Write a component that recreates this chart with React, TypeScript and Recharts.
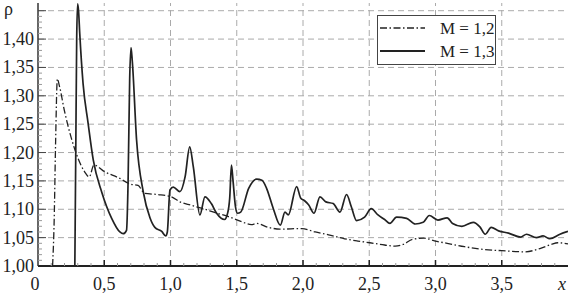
import React from "react";
import { LineChart, Line, XAxis, YAxis, ReferenceLine, Legend } from "recharts";

// M = 1,2 (dash-dot)
const m12X = [0.11, 0.122, 0.133, 0.146, 0.161, 0.201, 0.252, 0.302, 0.352, 0.387, 0.422, 0.503, 0.604, 0.704, 0.755, 0.805, 0.905, 1.006, 1.071, 1.157, 1.247, 1.338, 1.438, 1.537, 1.61, 1.65, 1.74, 1.826, 1.992, 2.092, 2.193, 2.314, 2.414, 2.505, 2.616, 2.696, 2.756, 2.827, 2.917, 2.998, 3.088, 3.219, 3.37, 3.501, 3.672, 3.793, 3.873, 3.923, 4.0];
const m12Y = [1.0, 1.08, 1.22, 1.33, 1.318, 1.272, 1.225, 1.19, 1.166, 1.157, 1.178, 1.166, 1.156, 1.144, 1.142, 1.128, 1.126, 1.122, 1.113, 1.107, 1.101, 1.094, 1.087, 1.078, 1.073, 1.075, 1.068, 1.065, 1.066, 1.06, 1.055, 1.048, 1.044, 1.041, 1.037, 1.035, 1.038, 1.047, 1.049, 1.044, 1.04, 1.034, 1.029, 1.027, 1.025, 1.031, 1.038, 1.041, 1.039];

// M = 1,3 (solid)
const m13X = [0.278, 0.285, 0.292, 0.299, 0.306, 0.315, 0.34, 0.378, 0.417, 0.48, 0.556, 0.618, 0.643, 0.668, 0.68, 0.692, 0.702, 0.712, 0.744, 0.795, 0.845, 0.882, 0.934, 0.964, 0.976, 0.996, 1.021, 1.071, 1.11, 1.145, 1.172, 1.222, 1.26, 1.308, 1.348, 1.408, 1.43, 1.447, 1.46, 1.472, 1.49, 1.505, 1.53, 1.59, 1.65, 1.69, 1.725, 1.776, 1.829, 1.864, 1.889, 1.952, 1.982, 2.012, 2.042, 2.083, 2.128, 2.173, 2.228, 2.279, 2.329, 2.364, 2.404, 2.465, 2.515, 2.566, 2.616, 2.656, 2.706, 2.782, 2.847, 2.907, 2.953, 3.018, 3.088, 3.129, 3.199, 3.285, 3.335, 3.375, 3.42, 3.476, 3.551, 3.642, 3.687, 3.762, 3.812, 3.863, 3.939, 4.0];
const m13Y = [1.0, 1.2, 1.4, 1.462, 1.45, 1.41, 1.322, 1.252, 1.187, 1.131, 1.084, 1.06, 1.057, 1.063, 1.15, 1.33, 1.385, 1.36, 1.222, 1.13, 1.085, 1.068, 1.061, 1.053, 1.06, 1.134, 1.139, 1.131, 1.157, 1.21, 1.175, 1.09, 1.122, 1.11, 1.093, 1.082, 1.092, 1.12, 1.178, 1.15, 1.105, 1.093, 1.095, 1.137, 1.153, 1.151, 1.137, 1.101, 1.072, 1.095, 1.09, 1.14, 1.12, 1.115, 1.108, 1.093, 1.122, 1.113, 1.11, 1.095, 1.126, 1.105, 1.08, 1.086, 1.101, 1.09, 1.082, 1.075, 1.086, 1.084, 1.074, 1.077, 1.089, 1.081, 1.085, 1.075, 1.07, 1.077, 1.069, 1.056, 1.068, 1.062, 1.058, 1.051, 1.056, 1.05, 1.053, 1.048, 1.056, 1.061];

// axis ticks and labels
const xMajorTicks = [0, 0.5, 1.0, 1.5, 2.0, 2.5, 3.0, 3.5, 4.0];
const xMajorLabels = ["0", "0,5", "1,0", "1,5", "2,0", "2,5", "3,0", "3,5", "x"];
const yMajorTicks = [1.0, 1.05, 1.1, 1.15, 1.2, 1.25, 1.3, 1.35, 1.4, 1.45];
const yMajorLabels = ["1,00", "1,05", "1,10", "1,15", "1,20", "1,25", "1,30", "1,35", "1,40", "ρ"];
const xGrid = [0.5, 1.0, 1.5, 2.0, 2.5, 3.0, 3.5];
const yGrid = [1.05, 1.1, 1.15, 1.2, 1.25, 1.3, 1.35, 1.4, 1.45];

const xMinorTicks: number[] = [];
for (let i = 0; i <= 40; i++) xMinorTicks.push(i / 10);
const yMinorTicks: number[] = [];
for (let i = 0; i <= 45; i++) yMinorTicks.push((100 + i) / 100);

const m12Data = m12X.map((x, i) => ({ x, y: m12Y[i] }));
const m13Data = m13X.map((x, i) => ({ x, y: m13Y[i] }));

const FONT = "Liberation Serif";
const DASHDOT = "7 2.5 1.5 2.5";

const findMajor = (arr: number[], v: number) => arr.findIndex((t) => Math.abs(t - v) < 1e-6);

const XTick = (props: any) => {
  const { x, y, payload } = props;
  const v = payload.value;
  const idx = findMajor(xMajorTicks, v);
  const major = idx >= 0;
  const label = major ? xMajorLabels[idx] : null;
  return (
    <g>
      {v > 0 && v < 3.95 && (
        <line x1={x} x2={x} y1={y} y2={y - (major ? 6 : 3)} stroke={major ? "#222" : "#999"} strokeWidth={major ? 1.5 : 1} />
      )}
      {label !== null && (
        <text
          x={label === "x" ? x - 6 : label === "0" ? x - 3 : x}
          y={y + 24}
          textAnchor="middle"
          fontFamily={FONT}
          fontSize={18}
          fontStyle={label === "x" ? "italic" : "normal"}
          style={{ fontFamily: FONT }}
          fill="#222"
        >
          {label}
        </text>
      )}
    </g>
  );
};

const YTick = (props: any) => {
  const { x, y, payload } = props;
  const v = payload.value;
  const idx = findMajor(yMajorTicks, v);
  const major = idx >= 0;
  const label = major ? yMajorLabels[idx] : null;
  return (
    <g>
      {v > 1.001 && (
        <line x1={x} x2={x + (major ? 8 : 4)} y1={y} y2={y} stroke={major ? "#444" : "#999"} strokeWidth={1} />
      )}
      {label !== null &&
        (label === "ρ" ? (
          <text x={x - 34} y={y + 4} textAnchor="start" fontFamily={FONT} fontSize={18} style={{ fontFamily: FONT }} fill="#222">
            {label}
          </text>
        ) : (
          <text x={x - 4} y={y + 6} textAnchor="end" fontFamily={FONT} fontSize={18} style={{ fontFamily: FONT }} fill="#222">
            {label}
          </text>
        ))}
    </g>
  );
};

const LegendBox = () => (
  <div
    style={{
      width: 117,
      height: 48,
      border: "1px solid #444",
      background: "#fff",
      boxSizing: "content-box",
      position: "relative",
      fontFamily: FONT,
    }}
  >
    <svg width={117} height={48} style={{ position: "absolute", left: 0, top: 0 }}>
      <line x1={2} x2={47} y1={12} y2={12} stroke="#222" strokeWidth={1.3} strokeDasharray={DASHDOT} />
      <line x1={2} x2={47} y1={35} y2={35} stroke="#222" strokeWidth={1.8} />
      <text x={62} y={18} fontFamily={FONT} fontSize={17} style={{ fontFamily: FONT }} fill="#222">M = 1,2</text>
      <text x={62} y={41} fontFamily={FONT} fontSize={17} style={{ fontFamily: FONT }} fill="#222">M = 1,3</text>
    </svg>
  </div>
);

export default function App() {
  return (
    <div style={{ position: "absolute", left: 0, top: 0, background: "#fff", fontFamily: FONT }}>
      <LineChart width={571} height={295} margin={{ top: 3, right: 3, bottom: 0, left: 0 }}>
        <XAxis
          type="number"
          dataKey="x"
          domain={[0, 4]}
          ticks={xMinorTicks}
          interval={0}
          tick={<XTick />}
          tickLine={false}
          tickSize={0}
          tickMargin={0}
          height={29}
          axisLine={{ stroke: "#222", strokeWidth: 2 }}
          allowDataOverflow
        />
        <YAxis
          type="number"
          domain={[1, 1.4636]}
          ticks={yMinorTicks}
          interval={0}
          tick={<YTick />}
          tickLine={false}
          tickSize={0}
          tickMargin={0}
          width={38}
          axisLine={{ stroke: "#333", strokeWidth: 1.5 }}
          allowDataOverflow
        />
        {xGrid.map((g) => (
          <ReferenceLine key={"x" + g} x={g} stroke="#aaa" strokeWidth={1} strokeDasharray="6 4" />
        ))}
        {yGrid.map((g) => (
          <ReferenceLine key={"y" + g} y={g} stroke="#aaa" strokeWidth={1} strokeDasharray="6 4" />
        ))}
        <Line
          data={m12Data}
          dataKey="y"
          type="monotone"
          stroke="#222"
          strokeWidth={1.3}
          strokeDasharray={DASHDOT}
          dot={false}
          isAnimationActive={false}
          name="M = 1,2"
        />
        <Line
          data={m13Data}
          dataKey="y"
          type="monotone"
          stroke="#222"
          strokeWidth={1.7}
          dot={false}
          isAnimationActive={false}
          name="M = 1,3"
        />
        <Legend
          layout="vertical"
          align="center"
          verticalAlign="middle"
          content={<LegendBox />}
          wrapperStyle={{ left: 377, top: 15, width: "auto", height: "auto" }}
        />
      </LineChart>
    </div>
  );
}
